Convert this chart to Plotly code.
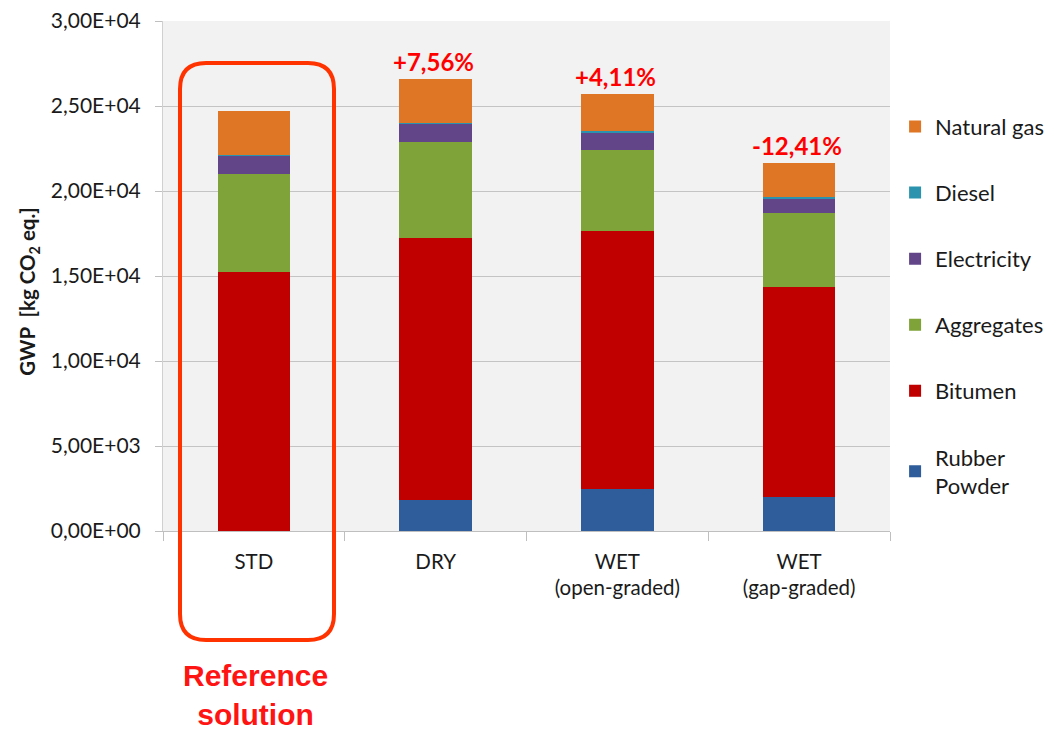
import plotly.graph_objects as go

categories = ["STD", "DRY", "WET<br>(open-graded)", "WET<br>(gap-graded)"]
rubber_powder = [0, 1820, 2470, 1980]
bitumen = [15250, 15400, 15200, 12370]
aggregates = [5730, 5640, 4740, 4340]
electricity = [1100, 1120, 1020, 860]
diesel = [30, 30, 100, 100]
natural_gas = [2570, 2550, 2190, 1980]
pct_labels = ["", "+7,56%", "+4,11%", "-12,41%"]

y_tickvals = [0, 5000, 10000, 15000, 20000, 25000, 30000]
y_ticktext = ["0,00E+00", "5,00E+03", "1,00E+04", "1,50E+04", "2,00E+04", "2,50E+04", "3,00E+04"]

series = [
    ("Rubber<br>Powder", rubber_powder, "#2f5c9a"),
    ("Bitumen", bitumen, "#c00000"),
    ("Aggregates", aggregates, "#7fa239"),
    ("Electricity", electricity, "#614588"),
    ("Diesel", diesel, "#2b93ae"),
    ("Natural gas", natural_gas, "#de7626"),
]

FONT = "Lato"

fig = go.Figure()
n = len(series)
for i, (name, vals, col) in enumerate(series):
    fig.add_trace(go.Bar(
        x=categories, y=vals, name=name, width=0.4,
        marker=dict(color=col, line=dict(width=0)),
        legendgroup=str(i), legendrank=n - i,
    ))

totals = [sum(v) for v in zip(rubber_powder, bitumen, aggregates, electricity, diesel, natural_gas)]
annotations = []
for c, t, lab in zip(categories, totals, pct_labels):
    if lab:
        annotations.append(dict(
            x=c, y=t, xref="x", yref="y", text="<b>%s</b>" % lab,
            showarrow=False, yanchor="bottom", yshift=1, xshift=-2,
            font=dict(family=FONT, size=24, color="#ff0000"),
        ))
annotations.append(dict(
    x=categories[0], xref="x", y=-0.322, yref="paper",
    text="<b>Reference<br>solution</b>", showarrow=False,
    yanchor="middle", xshift=2,
    font=dict(family="Liberation Sans", size=30, color="#ff1414"),
))
annotations.append(dict(
    x=-0.1843, xref="paper", y=0.469, yref="paper",
    text="<b>GWP  [kg CO<sub>2</sub> eq.]</b>", textangle=-90,
    showarrow=False, xanchor="center", yanchor="middle",
    font=dict(family=FONT, size=20.5, color="#1a1a1a"),
))

# rounded rectangle around reference solution (paper coords)
W, H = 727.0, 510.0
x0, x1 = 17 / W, 171 / W
y0, y1 = -109 / H, 468 / H
rx, ry = 26 / W, 26 / H
path = (f"M {x0+rx},{y1} L {x1-rx},{y1} Q {x1},{y1} {x1},{y1-ry} "
        f"L {x1},{y0+ry} Q {x1},{y0} {x1-rx},{y0} "
        f"L {x0+rx},{y0} Q {x0},{y0} {x0},{y0+ry} "
        f"L {x0},{y1-ry} Q {x0},{y1} {x0+rx},{y1} Z")

fig.update_layout(
    width=1063, height=730,
    margin=dict(l=163, r=173, t=21, b=199),
    paper_bgcolor="white",
    plot_bgcolor="#f2f2f2",
    barmode="stack",
    font=dict(family=FONT, size=20, color="#1a1a1a"),
    showlegend=True,
    legend=dict(
        traceorder="grouped",
        tracegroupgap=34.5,
        x=1.007, xanchor="left", y=0.834, yanchor="top",
        font=dict(family=FONT, size=22, color="#1a1a1a"),
        itemclick=False, bgcolor="rgba(0,0,0,0)",
    ),
    xaxis=dict(
        ticks="outside", tickson="boundaries", ticklen=9, tickcolor="#bfbfbf",
        showgrid=False, showline=True, linecolor="#bfbfbf", automargin=False,
        ticklabelstandoff=12, tickfont=dict(family=FONT, size=20.5),
    ),
    yaxis=dict(
        range=[0, 30000], tickvals=y_tickvals, ticktext=y_ticktext,
        ticks="outside", ticklen=7, tickcolor="#bfbfbf", automargin=False,
        showgrid=True, gridcolor="#c4c4c4", gridwidth=1,
        showline=True, linecolor="#d0d0d0", zeroline=False,
        ticklabelstandoff=10, tickfont=dict(family=FONT, size=21),
    ),
    annotations=annotations,
    shapes=[dict(type="path", xref="paper", yref="paper", path=path,
                 line=dict(color="#ff3300", width=4), fillcolor="rgba(0,0,0,0)")],
)

fig.write_html("out.html")
